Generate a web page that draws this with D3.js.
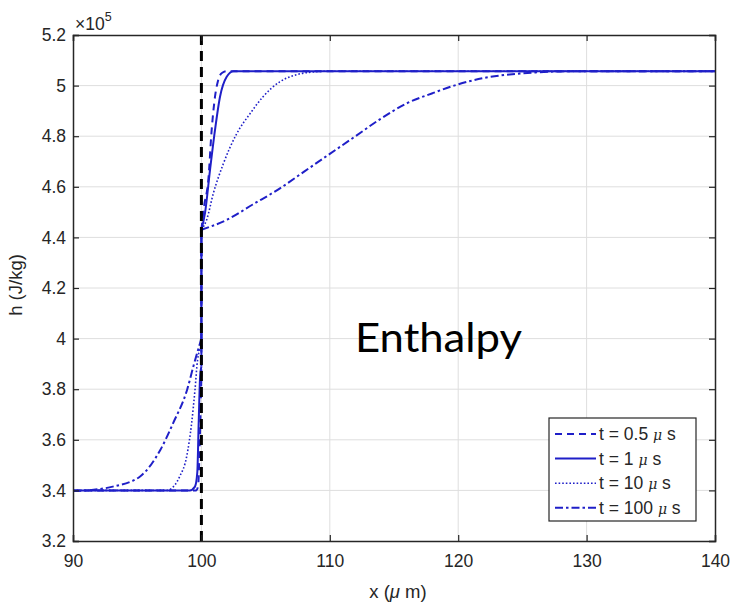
<!DOCTYPE html>
<html><head><meta charset="utf-8">
<script src="https://cdn.jsdelivr.net/npm/d3@7"></script>
<style>body{margin:0;background:#fff;} svg{display:block;}</style>
</head><body>
<svg id="c" width="734" height="609"></svg>
<script>
// ---- data (h in units of 1e5 J/kg, x in micrometres) ----
const xTicks = [90, 100, 110, 120, 130, 140];
const yTicks = [3.2, 3.4, 3.6, 3.8, 4.0, 4.2, 4.4, 4.6, 4.8, 5.0, 5.2];
const interfaceX = 100;

const x_t05_left  = [90, 99.6, 99.75, 99.85, 99.93, 100];
const h_t05_left  = [3.4, 3.4, 3.42, 3.55, 3.7, 3.85];
const x_t05_right = [100, 100.2, 100.54, 100.8, 101.06, 101.3, 101.6, 102, 140];
const h_t05_right = [4.43, 4.52, 4.627, 4.825, 4.956, 5.02, 5.05, 5.057, 5.057];

const x_t1_left  = [90, 99.1, 99.5, 99.68, 99.79, 99.9, 100];
const h_t1_left  = [3.4, 3.4, 3.415, 3.47, 3.67, 3.85, 3.89];
const x_t1_right = [100, 100.28, 100.67, 101.06, 101.45, 101.97, 102.5, 140];
const h_t1_right = [4.43, 4.496, 4.666, 4.825, 4.956, 5.035, 5.057, 5.057];

const x_t10_left  = [90, 97.3, 97.6, 98.3, 98.85, 99.24, 99.5, 99.7, 100];
const h_t10_left  = [3.4, 3.4, 3.405, 3.454, 3.533, 3.666, 3.797, 3.915, 3.97];
const x_t10_right = [100, 100.41, 100.93, 101.7, 102.75, 103.8, 104.8, 106.1, 107.2, 108.5, 110, 140];
const h_t10_right = [4.43, 4.47, 4.574, 4.69, 4.81, 4.89, 4.956, 5.015, 5.04, 5.053, 5.057, 5.057];

const x_t100_left  = [90, 91, 93.1, 95.2, 96.8, 97.8, 98.9, 99.4, 100];
const h_t100_left  = [3.398, 3.4, 3.415, 3.454, 3.56, 3.666, 3.80, 3.895, 4.0];
const x_t100_right = [100, 102, 104, 106, 108, 110, 112, 114, 116, 118, 120, 122, 124, 126, 128, 130, 140];
const h_t100_right = [4.43, 4.47, 4.53, 4.59, 4.66, 4.73, 4.80, 4.87, 4.93, 4.97, 5.005, 5.03, 5.044, 5.052, 5.056, 5.057, 5.057];

const seriesNames = ["t = 0.5 ", "t = 1 ", "t = 10 ", "t = 100 "];

// ---- layout ----
const svg = d3.select("#c");
const L = 73, R = 715, T = 35, B = 541;
const x = d3.scaleLinear().domain([90, 140]).range([L, R]);
const y = d3.scaleLinear().domain([3.2, 5.2]).range([B, T]);
const blue = "#1f1fc8";
const font = "'Liberation Sans', Arial, sans-serif";

const series = [
  {name: seriesNames[0], segs: [[x_t05_left, h_t05_left], [x_t05_right, h_t05_right]], dash: "7,5", w: 2},
  {name: seriesNames[1], segs: [[x_t1_left, h_t1_left], [x_t1_right, h_t1_right]], dash: null, w: 2},
  {name: seriesNames[2], segs: [[x_t10_left, h_t10_left], [x_t10_right, h_t10_right]], dash: "1.6,2", w: 1.6},
  {name: seriesNames[3], segs: [[x_t100_left, h_t100_left], [x_t100_right, h_t100_right]], dash: "8,3,2.5,3", w: 2}
];

// grid
const g = svg.append("g");
g.selectAll(".gx").data(xTicks.slice(1, -1)).enter().append("line")
  .attr("x1", d => x(d)).attr("x2", d => x(d)).attr("y1", T).attr("y2", B)
  .attr("stroke", "#dedede").attr("stroke-width", 1);
g.selectAll(".gy").data(yTicks.slice(1, -1)).enter().append("line")
  .attr("y1", d => y(d)).attr("y2", d => y(d)).attr("x1", L).attr("x2", R)
  .attr("stroke", "#dedede").attr("stroke-width", 1);

// curves
const line = d3.line().x(d => x(d[0])).y(d => y(d[1])).curve(d3.curveMonotoneX);
series.forEach(s => {
  s.segs.forEach(([xs, hs]) => {
    const pts = xs.map((v, i) => [v, hs[i]]);
    svg.append("path").datum(pts).attr("d", line)
      .attr("fill", "none").attr("stroke", blue).attr("stroke-width", s.w)
      .attr("stroke-dasharray", s.dash);
  });
  const lt = s.segs[0][1][s.segs[0][1].length - 1], rt = s.segs[1][1][0];
  svg.append("line").attr("x1", x(interfaceX)).attr("x2", x(interfaceX))
    .attr("y1", y(lt)).attr("y2", y(rt)).attr("stroke", blue).attr("stroke-width", s.w)
    .attr("stroke-dasharray", s.dash);
});

// interface line
svg.append("line").attr("x1", x(interfaceX)).attr("x2", x(interfaceX))
  .attr("y1", T).attr("y2", B).attr("stroke", "#000").attr("stroke-width", 3)
  .attr("stroke-dasharray", "10,6");

// axes
const fmt = d => String(+d.toFixed(1));
const axB = svg.append("g").attr("transform", `translate(0,${B})`)
  .call(d3.axisBottom(x).tickValues(xTicks).tickSize(-6).tickPadding(14).tickFormat(fmt));
const axT = svg.append("g").attr("transform", `translate(0,${T})`)
  .call(d3.axisTop(x).tickValues(xTicks).tickSize(-6).tickFormat(""));
const axL = svg.append("g").attr("transform", `translate(${L},0)`)
  .call(d3.axisLeft(y).tickValues(yTicks).tickSize(-6).tickPadding(7).tickFormat(fmt));
const axR = svg.append("g").attr("transform", `translate(${R},0)`)
  .call(d3.axisRight(y).tickValues(yTicks).tickSize(-6).tickFormat(""));
[axB, axT, axL, axR].forEach(a => {
  a.select(".domain").attr("stroke", "#262626").attr("stroke-width", 1.5);
  a.selectAll(".tick line").attr("stroke", "#262626").attr("stroke-width", 1.2);
  a.selectAll("text").attr("font-family", font).attr("font-size", 17.5).attr("fill", "#262626");
});

// exponent
const ex = svg.append("text").attr("x", L + 2).attr("y", 30).attr("font-family", font)
  .attr("font-size", 17.5).attr("fill", "#262626");
ex.append("tspan").text("\u00d710");
ex.append("tspan").attr("dy", -9).attr("font-size", 12.5).text("5");

// axis labels
svg.append("text").attr("x", (L + R) / 2 + 4).attr("y", 598).attr("text-anchor", "middle")
  .attr("font-family", font).attr("font-size", 18.5).attr("fill", "#262626")
  .call(t => { t.append("tspan").text("x ("); t.append("tspan").attr("font-style", "italic").text("\u03bc"); t.append("tspan").text(" m)"); });
svg.append("text").attr("transform", `translate(22,${(T + B) / 2 - 3}) rotate(-90)`).attr("text-anchor", "middle")
  .attr("font-family", font).attr("font-size", 18.5).attr("fill", "#262626").text("h (J/kg)");

// annotation
svg.append("text").attr("x", 355).attr("y", 352).attr("font-family", "Lato, 'Open Sans', sans-serif")
  .attr("font-size", 41).attr("textLength", 167).attr("lengthAdjust", "spacingAndGlyphs")
  .attr("fill", "#000").text("Enthalpy");

// legend
const lg = svg.append("g");
lg.append("rect").attr("x", 549).attr("y", 418).attr("width", 147).attr("height", 103)
  .attr("fill", "#fff").attr("stroke", "#262626").attr("stroke-width", 1.2);
series.forEach((s, i) => {
  const cy = 434 + i * 24.6;
  lg.append("line").attr("x1", 555).attr("x2", 596).attr("y1", cy).attr("y2", cy)
    .attr("stroke", blue).attr("stroke-width", s.w).attr("stroke-dasharray", s.dash);
  const t = lg.append("text").attr("x", 599).attr("y", cy + 6).attr("font-family", font)
    .attr("font-size", 17.5).attr("fill", "#262626");
  t.append("tspan").text(s.name);
  t.append("tspan").attr("font-style", "italic").attr("font-family", "'DejaVu Serif', serif").attr("font-size", 14).text("\u03bc");
  t.append("tspan").text(" s");
});
</script>
</body></html>
